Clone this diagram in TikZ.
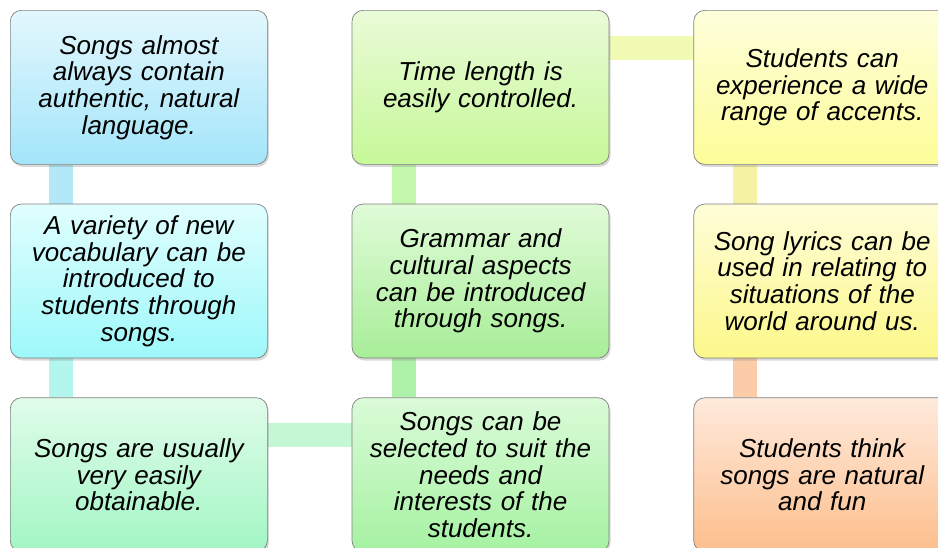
\documentclass[tikz,border=0pt]{standalone}
\usepackage{fontspec}
\setmainfont{Liberation Sans}
\usetikzlibrary{positioning,shadows,backgrounds}

\definecolor{authTop}{HTML}{E3F7FD}
\definecolor{authBot}{HTML}{A3E5FA}
\definecolor{vocabTop}{HTML}{E0FEFE}
\definecolor{vocabBot}{HTML}{9EF8FA}
\definecolor{obtainTop}{HTML}{E0FCEA}
\definecolor{obtainBot}{HTML}{A2F6C4}
\definecolor{selectTop}{HTML}{DAFBD8}
\definecolor{selectBot}{HTML}{A6F2A2}
\definecolor{grammarTop}{HTML}{E0FBD8}
\definecolor{grammarBot}{HTML}{A8EE98}
\definecolor{timeTop}{HTML}{EAFBD8}
\definecolor{timeBot}{HTML}{C6F898}
\definecolor{accentTop}{HTML}{FEFEDC}
\definecolor{accentBot}{HTML}{FDFD98}
\definecolor{lyricsTop}{HTML}{FFFDD8}
\definecolor{lyricsBot}{HTML}{FCF88A}
\definecolor{funTop}{HTML}{FEEADC}
\definecolor{funBot}{HTML}{FDBE8C}
% bar colours
\definecolor{barAV}{HTML}{B2E8F8}
\definecolor{barVO}{HTML}{B2F6EE}
\definecolor{barOS}{HTML}{C4F8D4}
\definecolor{barSG}{HTML}{AEF2AA}
\definecolor{barGT}{HTML}{C4F8AC}
\definecolor{barTA}{HTML}{F2FBB4}
\definecolor{barAL}{HTML}{F6F2A4}
\definecolor{barLF}{HTML}{FCCCA8}

\begin{document}
\begin{tikzpicture}[x=1pt,y=-1pt,
    card/.style={rectangle,rounded corners=11pt,draw=black!50,line width=0.7pt,
      minimum width=257pt,minimum height=154pt,inner sep=0pt,
      text width=245pt,align=center,
      font=\fontsize{26}{26.7}\selectfont\itshape,
      top color=#1Top,bottom color=#1Bot,
      drop shadow={shadow xshift=1.5pt,shadow yshift=-2.5pt,opacity=0.3}},
    link/.style={line width=24pt,draw=#1}]
  \path[use as bounding box,clip] (0,0) rectangle (938,547);
  % first column
  \node[card=auth,anchor=north west] (authentic) at (10,10)
    {Songs almost\\always contain\\authentic, natural\\language.};
  \node[card=vocab,below=39pt of authentic] (vocab)
    {A variety of new\\vocabulary can be\\introduced to\\students through\\songs.};
  \node[card=obtain,below=39pt of vocab] (obtain)
    {Songs are usually\\very easily\\obtainable.};
  % second column, going up
  \node[card=select,right=84pt of obtain] (select)
    {Songs can be\\selected to suit the\\needs and\\interests of the\\students.};
  \node[card=grammar,above=39pt of select] (grammar)
    {Grammar and\\cultural aspects\\can be introduced\\through songs.};
  \node[card=time,above=39pt of grammar] (time)
    {Time length is\\easily controlled.};
  % third column, going down
  \node[card=accent,right=84pt of time] (accent)
    {Students can\\experience a wide\\range of accents.};
  \node[card=lyrics,below=39pt of accent] (lyrics)
    {Song lyrics can be\\used in relating to\\situations of the\\world around us.};
  \node[card=fun,below=39pt of lyrics] (fun)
    {Students think\\songs are natural\\and fun};
  % connecting bars
  \begin{scope}[on background layer]
    \draw[link=barAV] ([xshift=51pt]authentic.south west) -- ([xshift=51pt]vocab.north west);
    \draw[link=barVO] ([xshift=51pt]vocab.south west) -- ([xshift=51pt]obtain.north west);
    \draw[link=barOS] ([yshift=-38pt]obtain.north east) -- ([yshift=-38pt]select.north west);
    \draw[link=barSG] ([xshift=52pt]select.north west) -- ([xshift=52pt]grammar.south west);
    \draw[link=barGT] ([xshift=52pt]grammar.north west) -- ([xshift=52pt]time.south west);
    \draw[link=barTA] ([yshift=-38pt]time.north east) -- ([yshift=-38pt]accent.north west);
    \draw[link=barAL] ([xshift=52pt]accent.south west) -- ([xshift=52pt]lyrics.north west);
    \draw[link=barLF] ([xshift=52pt]lyrics.south west) -- ([xshift=52pt]fun.north west);
  \end{scope}
\end{tikzpicture}
\end{document}
